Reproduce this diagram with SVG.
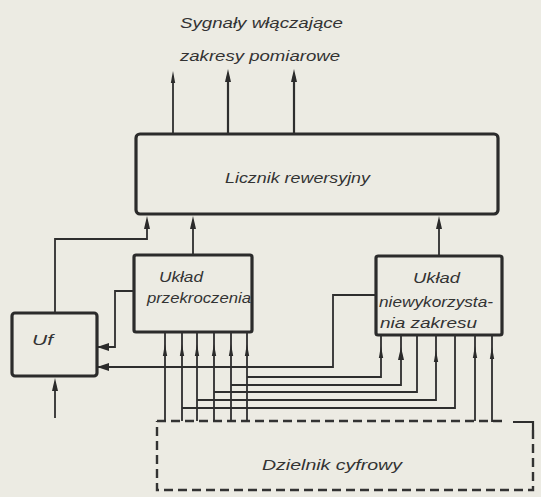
<svg xmlns="http://www.w3.org/2000/svg" xmlns:xlink="http://www.w3.org/1999/xlink" width="541" height="497" viewBox="0 0 541 497">
<style>
.bg{fill:#ecebe3}
.box{fill:none;stroke:#2b2b2b;stroke-width:3.2}
.w{fill:none;stroke:#2e2e2e;stroke-width:1.8}
.wb{fill:none;stroke:#2e2e2e;stroke-width:2.2}
.d{fill:none;stroke:#333;stroke-width:2.4;stroke-dasharray:9 5}
.ah{fill:#2b2b2b}
text{font-family:"Liberation Sans",Arial,sans-serif;font-style:italic;fill:#333;font-size:15px}
</style>
<defs>
<path id="a" class="ah" d="M0,0 L3,13 L-3,13 Z"/>
<path id="s" class="ah" d="M0,0 L2.2,12 L-2.2,12 Z"/>
<marker id="mh" viewBox="0 0 12 8" refX="11" refY="4" markerWidth="12" markerHeight="8" markerUnits="userSpaceOnUse" orient="auto"><path d="M0,0 L12,4 L0,8 Z" fill="#2b2b2b"/></marker>
</defs>
<rect class="bg" x="0" y="0" width="541" height="497"/>

<g id="title">
<text x="180" y="28" textLength="163" lengthAdjust="spacingAndGlyphs">Sygnały włączające</text>
<text x="180" y="61" textLength="160" lengthAdjust="spacingAndGlyphs">zakresy pomiarowe</text>
</g>

<g id="licznik">
<rect class="box" x="136" y="134" width="362" height="80" rx="4"/>
<text x="225" y="183" textLength="145" lengthAdjust="spacingAndGlyphs">Licznik rewersyjny</text>
</g>

<g id="przekroczenia">
<rect class="box" x="134" y="255" width="118" height="77" rx="2"/>
<text x="159" y="282" textLength="44" lengthAdjust="spacingAndGlyphs">Układ</text>
<text x="147" y="303" textLength="104" lengthAdjust="spacingAndGlyphs">przekroczenia</text>
</g>

<g id="niewykorzystania">
<rect class="box" x="376" y="256" width="126" height="79" rx="2"/>
<text x="413" y="283" textLength="47" lengthAdjust="spacingAndGlyphs">Układ</text>
<text x="379" y="307" textLength="114" lengthAdjust="spacingAndGlyphs">niewykorzysta-</text>
<text x="380" y="328" textLength="97" lengthAdjust="spacingAndGlyphs">nia zakresu</text>
</g>

<g id="uf">
<rect class="box" x="12" y="313" width="85" height="63" rx="3"/>
<text x="32" y="345" textLength="21" lengthAdjust="spacingAndGlyphs">Uf</text>
</g>

<g id="dzielnik">
<path class="d" d="M157,421 H503"/>
<path class="wb" d="M513,422 H533 V430"/>
<path class="d" d="M533,430 V490 H157 V421"/>
<text x="262" y="470" textLength="140" lengthAdjust="spacingAndGlyphs">Dzielnik cyfrowy</text>
</g>

<g id="connectors">
<!-- top outputs -->
<path class="w" d="M173,134 V76"/>
<use xlink:href="#s" x="173" y="71"/>
<path class="wb" d="M228,134 V76"/>
<use xlink:href="#a" x="228" y="69"/>
<path class="wb" d="M294,134 V76"/>
<use xlink:href="#a" x="294" y="69"/>

<!-- into licznik from below -->
<path class="w" d="M55,313 V239 H147 V225"/>
<use xlink:href="#a" x="147" y="216"/>
<path class="w" d="M193,255 V225"/>
<use xlink:href="#a" x="193" y="216"/>
<path class="w" d="M439,256 V225"/>
<use xlink:href="#a" x="439" y="216"/>

<!-- to Uf -->
<path class="w" d="M134,291 H115 V347 H98" marker-end="url(#mh)"/>
<path class="w" d="M376,295 H333 V367 H98" marker-end="url(#mh)"/>
<path class="w" d="M55,418 V388"/>
<use xlink:href="#a" x="55" y="378"/>

<!-- left box verticals -->
<path class="w" d="M165,332 V421 M182,332 V421 M197,332 V421 M214,332 V421 M231,332 V421 M247,332 V421"/>
<use xlink:href="#s" x="165" y="344"/>
<use xlink:href="#s" x="182" y="344"/>
<use xlink:href="#s" x="197" y="344"/>
<use xlink:href="#s" x="214" y="344"/>
<use xlink:href="#s" x="231" y="344"/>
<use xlink:href="#s" x="247" y="344"/>

<!-- cross wiring -->
<path class="w" d="M247,377 H381 V335"/>
<path class="w" d="M231,385 H401 V335"/>
<path class="w" d="M214,392 H417 V335"/>
<path class="w" d="M197,400 H436 V335"/>
<path class="w" d="M182,408 H455 V335"/>
<path class="w" d="M475,335 V421"/>
<path class="w" d="M492,335 V421 H502"/>
<use xlink:href="#s" x="381" y="346"/>
<use xlink:href="#a" x="401" y="347"/>
<use xlink:href="#s" x="436" y="350"/>
<use xlink:href="#s" x="475" y="346"/>
<use xlink:href="#s" x="492" y="347"/>
</g>
</svg>
